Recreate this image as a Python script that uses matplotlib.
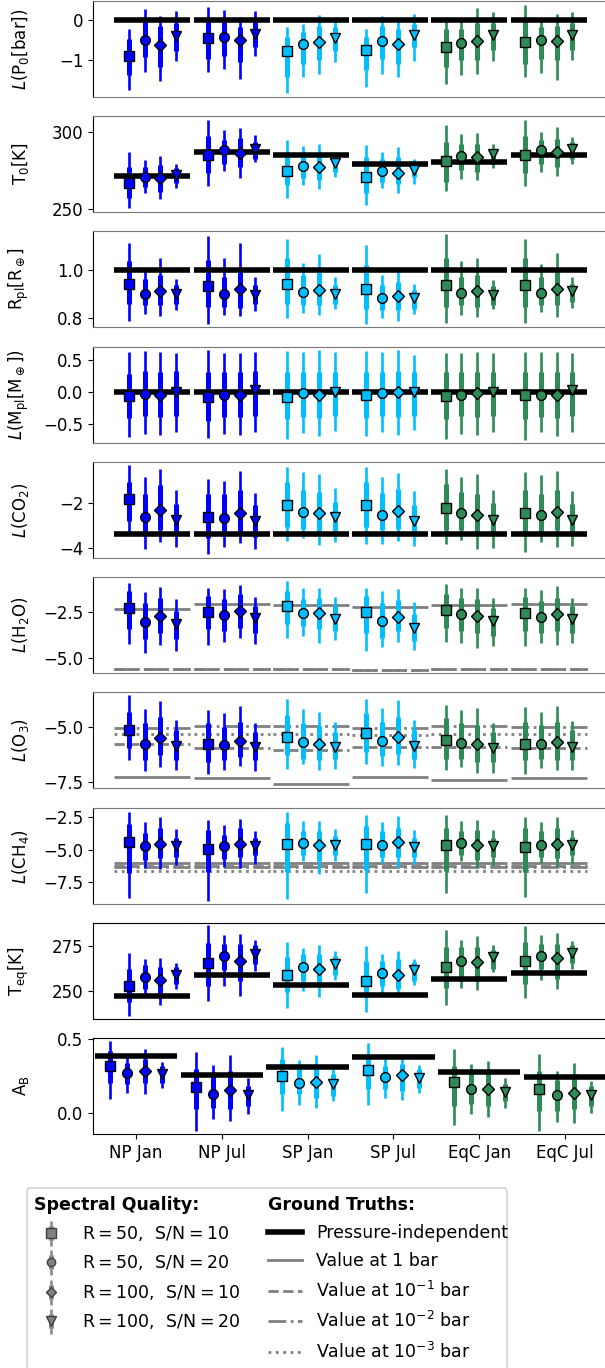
import numpy as np
import matplotlib
matplotlib.use("Agg")
import matplotlib.pyplot as plt
from matplotlib.lines import Line2D
from matplotlib.patches import FancyBboxPatch

locations = ["NP Jan", "NP Jul", "SP Jan", "SP Jul", "EqC Jan", "EqC Jul"]
loc_colors = ["#0000ff", "#0000ff", "#00bfff", "#00bfff", "#2e8b57", "#2e8b57"]
quality_labels = [r"$\mathrm{R=50,\ \,S/N=10}$", r"$\mathrm{R=50,\ \,S/N=20}$",
                  r"$\mathrm{R=100,\ \,S/N=10}$", r"$\mathrm{R=100,\ \,S/N=20}$"]
quality_markers = ["s", "o", "D", "v"]

# posteriors: [location][spectral quality] -> (2.5%, 16%, 50%, 84%, 97.5%)
P0 = [
    [[-1.72, -1.37, -0.88, -0.47, -0.23], [-1.28, -0.92, -0.49, -0.02, 0.26], [-1.51, -1.16, -0.62, -0.15, 0.10], [-1.02, -0.76, -0.41, -0.07, 0.22]],
    [[-1.28, -0.96, -0.46, 0.02, 0.32], [-1.20, -0.88, -0.43, -0.02, 0.24], [-1.45, -1.04, -0.51, -0.19, 0.07], [-0.90, -0.67, -0.35, -0.02, 0.22]],
    [[-1.81, -1.41, -0.78, -0.43, -0.19], [-1.42, -1.08, -0.59, -0.31, -0.11], [-1.33, -1.00, -0.56, -0.15, 0.12], [-1.04, -0.76, -0.45, -0.19, -0.02]],
    [[-1.65, -1.24, -0.74, -0.43, -0.23], [-1.33, -0.96, -0.53, -0.15, 0.10], [-1.41, -1.08, -0.59, -0.23, 0.02], [-1.02, -0.67, -0.37, -0.11, 0.14]],
    [[-1.57, -1.16, -0.67, -0.23, 0.07], [-1.37, -1.00, -0.57, -0.23, 0.02], [-1.34, -1.00, -0.53, -0.07, 0.30], [-1.02, -0.74, -0.37, -0.07, 0.18]],
    [[-1.42, -1.08, -0.54, -0.02, 0.37], [-1.31, -0.96, -0.49, -0.19, 0.02], [-1.47, -1.00, -0.53, -0.15, 0.15], [-1.00, -0.74, -0.37, -0.07, 0.18]],
]
T0 = [
    [[250.6, 257.1, 267.2, 277.5, 287.1], [260.7, 264.6, 271.0, 277.5, 282.2], [256.4, 261.4, 270.0, 278.5, 284.5], [263.9, 267.2, 272.5, 276.4, 279.6]],
    [[265.2, 273.2, 285.0, 297.2, 307.9], [274.9, 279.6, 288.2, 294.6, 301.1], [270.0, 277.5, 286.5, 296.1, 302.8], [280.3, 282.8, 289.3, 293.6, 297.9]],
    [[257.1, 265.7, 274.7, 286.1, 294.6], [265.7, 270.0, 278.1, 286.1, 291.0], [263.1, 269.0, 277.5, 286.1, 292.5], [271.0, 274.2, 280.0, 285.0, 287.1]],
    [[252.8, 260.3, 271.0, 283.9, 291.4], [263.5, 267.8, 274.7, 282.8, 287.1], [260.7, 266.7, 273.8, 283.9, 290.3], [266.7, 271.0, 275.3, 280.7, 282.8]],
    [[262.0, 267.8, 281.1, 293.6, 304.3], [269.3, 275.3, 284.3, 292.5, 298.9], [268.9, 274.2, 283.5, 292.5, 299.4], [276.4, 279.6, 285.6, 289.3, 292.5]],
    [[265.2, 273.2, 285.4, 297.2, 307.9], [274.2, 279.6, 288.2, 294.6, 300.0], [271.7, 277.5, 287.1, 295.7, 303.2], [279.6, 282.8, 288.8, 293.6, 296.8]],
]
RP = [
    [[0.788, 0.859, 0.941, 1.034, 1.108], [0.818, 0.852, 0.901, 0.963, 0.994], [0.808, 0.852, 0.912, 0.979, 1.046], [0.834, 0.859, 0.898, 0.935, 0.959]],
    [[0.775, 0.846, 0.931, 1.039, 1.139], [0.811, 0.846, 0.901, 0.970, 1.046], [0.807, 0.841, 0.919, 0.990, 1.108], [0.829, 0.857, 0.897, 0.935, 0.970]],
    [[0.800, 0.859, 0.942, 1.046, 1.128], [0.822, 0.852, 0.909, 0.977, 1.029], [0.811, 0.852, 0.917, 0.990, 1.063], [0.839, 0.859, 0.898, 0.935, 0.970]],
    [[0.775, 0.839, 0.921, 1.018, 1.103], [0.801, 0.834, 0.884, 0.935, 0.979], [0.786, 0.832, 0.891, 0.949, 1.011], [0.818, 0.839, 0.883, 0.914, 0.942]],
    [[0.781, 0.846, 0.938, 1.046, 1.145], [0.814, 0.852, 0.905, 0.970, 1.034], [0.804, 0.846, 0.912, 0.979, 1.046], [0.839, 0.855, 0.897, 0.932, 0.956]],
    [[0.781, 0.846, 0.935, 1.046, 1.124], [0.825, 0.855, 0.905, 0.970, 1.021], [0.804, 0.852, 0.921, 0.990, 1.070], [0.843, 0.866, 0.910, 0.942, 0.970]],
]
MP = [
    [[-0.71, -0.41, -0.06, 0.29, 0.63], [-0.66, -0.38, -0.03, 0.34, 0.64], [-0.67, -0.39, -0.04, 0.32, 0.63], [-0.63, -0.37, 0.01, 0.34, 0.61]],
    [[-0.72, -0.45, -0.08, 0.32, 0.66], [-0.66, -0.39, -0.04, 0.32, 0.61], [-0.67, -0.39, -0.04, 0.32, 0.61], [-0.62, -0.38, 0.04, 0.34, 0.63]],
    [[-0.74, -0.42, -0.07, 0.32, 0.64], [-0.64, -0.39, -0.02, 0.32, 0.63], [-0.69, -0.41, -0.04, 0.32, 0.66], [-0.61, -0.37, 0.01, 0.32, 0.63]],
    [[-0.69, -0.41, -0.05, 0.32, 0.64], [-0.63, -0.37, -0.01, 0.32, 0.63], [-0.67, -0.39, 0.01, 0.33, 0.66], [-0.59, -0.37, 0.00, 0.32, 0.59]],
    [[-0.74, -0.42, -0.06, 0.32, 0.61], [-0.66, -0.38, -0.04, 0.32, 0.61], [-0.68, -0.39, -0.01, 0.32, 0.63], [-0.63, -0.37, 0.00, 0.32, 0.61]],
    [[-0.75, -0.42, -0.05, 0.32, 0.63], [-0.63, -0.39, -0.04, 0.32, 0.63], [-0.69, -0.41, -0.05, 0.32, 0.63], [-0.63, -0.37, 0.04, 0.32, 0.61]],
]
CO2 = [
    [[-3.30, -2.78, -1.81, -1.06, -0.31], [-4.04, -3.45, -2.60, -1.58, -0.84], [-3.75, -3.22, -2.30, -1.21, -0.49], [-3.97, -3.37, -2.75, -2.03, -1.43]],
    [[-4.27, -3.55, -2.60, -1.58, -0.91], [-3.97, -3.45, -2.67, -1.58, -0.99], [-3.79, -3.30, -2.45, -1.43, -0.54], [-4.04, -3.49, -2.78, -2.10, -1.55]],
    [[-3.70, -3.07, -2.06, -1.06, -0.39], [-3.55, -3.15, -2.40, -1.43, -0.61], [-3.85, -3.37, -2.43, -1.51, -0.69], [-3.75, -3.30, -2.63, -1.96, -1.31]],
    [[-3.82, -3.07, -2.06, -1.06, -0.39], [-3.82, -3.22, -2.51, -1.55, -0.81], [-3.67, -3.15, -2.33, -1.36, -0.66], [-3.90, -3.45, -2.78, -2.10, -1.46]],
    [[-3.82, -3.22, -2.22, -1.13, -0.46], [-3.64, -3.22, -2.45, -1.51, -0.84], [-4.04, -3.37, -2.52, -1.58, -0.69], [-4.01, -3.37, -2.75, -2.00, -1.40]],
    [[-4.19, -3.45, -2.45, -1.43, -0.61], [-3.75, -3.34, -2.55, -1.58, -0.76], [-3.97, -3.22, -2.40, -1.43, -0.54], [-3.90, -3.37, -2.75, -2.03, -1.46]],
]
H2O = [
    [[-4.24, -3.46, -2.32, -1.38, -0.92], [-4.73, -4.00, -3.04, -2.01, -1.41], [-4.28, -3.64, -2.74, -1.74, -1.16], [-4.64, -4.00, -3.19, -2.46, -1.83]],
    [[-4.33, -3.46, -2.50, -1.65, -1.20], [-4.13, -3.55, -2.68, -1.83, -1.29], [-3.91, -3.37, -2.46, -1.56, -1.05], [-4.24, -3.64, -2.83, -2.19, -1.70]],
    [[-3.91, -3.15, -2.19, -1.38, -0.83], [-3.79, -3.28, -2.55, -1.83, -1.20], [-4.18, -3.46, -2.59, -1.74, -1.20], [-4.04, -3.55, -2.88, -2.19, -1.68]],
    [[-4.64, -3.64, -2.52, -1.65, -1.20], [-4.42, -3.91, -3.01, -2.01, -1.38], [-4.13, -3.55, -2.77, -1.88, -1.29], [-4.58, -4.09, -3.37, -2.64, -1.96]],
    [[-4.15, -3.37, -2.41, -1.56, -1.01], [-4.18, -3.55, -2.64, -1.74, -1.20], [-4.49, -3.64, -2.74, -1.83, -1.20], [-4.37, -3.82, -3.01, -2.28, -1.74]],
    [[-4.37, -3.55, -2.55, -1.68, -1.20], [-4.18, -3.64, -2.77, -1.92, -1.34], [-4.28, -3.55, -2.64, -1.74, -1.10], [-4.18, -3.64, -2.92, -2.19, -1.74]],
]
O3 = [
    [[-6.52, -5.98, -5.15, -4.32, -3.56], [-7.00, -6.52, -5.76, -4.85, -4.21], [-6.82, -6.29, -5.53, -4.58, -3.86], [-6.94, -6.52, -5.88, -5.15, -4.70]],
    [[-7.15, -6.59, -5.76, -4.85, -4.24], [-6.94, -6.52, -5.83, -5.00, -4.39], [-6.79, -6.36, -5.65, -4.77, -4.06], [-7.00, -6.52, -5.91, -5.23, -4.82]],
    [[-6.89, -6.29, -5.48, -4.47, -3.76], [-6.70, -6.44, -5.70, -4.85, -4.21], [-6.97, -6.52, -5.76, -4.97, -4.32], [-6.89, -6.44, -5.91, -5.23, -4.77]],
    [[-6.67, -6.14, -5.27, -4.39, -3.76], [-6.77, -6.33, -5.65, -4.77, -4.17], [-6.74, -6.21, -5.48, -4.55, -3.79], [-6.86, -6.44, -5.88, -5.15, -4.70]],
    [[-6.94, -6.44, -5.62, -4.62, -4.02], [-6.82, -6.44, -5.73, -4.85, -4.24], [-7.09, -6.59, -5.79, -4.92, -4.17], [-7.09, -6.59, -5.98, -5.23, -4.82]],
    [[-7.12, -6.52, -5.76, -4.77, -4.12], [-6.85, -6.44, -5.76, -4.92, -4.32], [-6.97, -6.52, -5.68, -4.77, -4.06], [-6.94, -6.52, -5.91, -5.15, -4.73]],
]
CH4 = [
    [[-8.69, -6.80, -4.43, -3.02, -2.09], [-6.37, -5.77, -4.74, -3.71, -2.89], [-6.47, -5.64, -4.56, -3.32, -2.50], [-6.16, -5.52, -4.74, -4.10, -3.38]],
    [[-8.94, -6.68, -4.95, -3.45, -2.68], [-6.29, -5.70, -4.74, -3.84, -3.07], [-6.42, -5.59, -4.56, -3.32, -2.60], [-6.11, -5.44, -4.69, -4.10, -3.58]],
    [[-8.79, -6.68, -4.54, -2.94, -2.09], [-5.90, -5.39, -4.48, -3.58, -2.81], [-6.88, -5.90, -4.67, -3.58, -2.81], [-5.90, -5.39, -4.61, -3.97, -3.38]],
    [[-8.35, -6.55, -4.56, -3.20, -2.35], [-6.03, -5.59, -4.61, -3.58, -2.86], [-6.29, -5.52, -4.43, -3.32, -2.42], [-6.11, -5.52, -4.79, -4.10, -3.51]],
    [[-8.30, -6.62, -4.67, -3.32, -2.29], [-5.90, -5.39, -4.48, -3.58, -2.81], [-6.42, -5.77, -4.67, -3.45, -2.68], [-6.16, -5.52, -4.74, -4.10, -3.45]],
    [[-8.61, -6.68, -4.82, -3.32, -2.50], [-6.03, -5.52, -4.61, -3.58, -2.86], [-6.29, -5.64, -4.56, -3.32, -2.50], [-6.11, -5.44, -4.67, -4.05, -3.45]],
]
TEQ = [
    [[235.9, 243.4, 252.8, 262.2, 271.2], [247.2, 250.9, 257.5, 264.1, 267.9], [242.1, 247.2, 256.0, 263.2, 268.4], [250.9, 253.8, 258.5, 263.2, 265.6]],
    [[244.0, 252.8, 265.4, 276.7, 286.7], [252.3, 261.3, 269.2, 276.3, 281.0], [246.8, 255.6, 266.9, 276.3, 282.0], [260.9, 265.0, 270.7, 275.4, 278.6]],
    [[240.2, 249.1, 259.0, 268.8, 277.3], [249.6, 255.6, 263.2, 270.7, 274.1], [246.2, 252.8, 262.2, 270.7, 275.8], [256.0, 258.5, 265.0, 269.7, 272.0]],
    [[237.8, 246.2, 255.6, 266.9, 274.8], [248.5, 252.8, 259.8, 266.9, 270.7], [246.2, 250.9, 258.8, 267.9, 272.2], [253.4, 255.6, 261.3, 266.0, 267.9]],
    [[242.1, 251.5, 263.2, 274.4, 283.8], [251.5, 257.5, 266.9, 274.4, 278.6], [250.4, 255.6, 266.0, 274.4, 280.5], [260.3, 262.2, 268.8, 272.6, 275.4]],
    [[245.7, 253.8, 266.4, 277.3, 286.3], [256.0, 262.2, 269.7, 276.3, 281.0], [250.9, 256.6, 268.4, 276.3, 282.5], [262.2, 265.4, 271.0, 275.4, 277.8]],
]
AB = [
    [[0.091, 0.205, 0.318, 0.416, 0.484], [0.136, 0.193, 0.268, 0.336, 0.386], [0.130, 0.205, 0.284, 0.364, 0.432], [0.170, 0.205, 0.266, 0.318, 0.345]],
    [[-0.120, 0.023, 0.175, 0.295, 0.409], [-0.039, 0.034, 0.125, 0.261, 0.325], [-0.057, 0.023, 0.155, 0.284, 0.391], [-0.005, 0.045, 0.120, 0.182, 0.239]],
    [[0.011, 0.125, 0.250, 0.364, 0.448], [0.052, 0.125, 0.200, 0.295, 0.359], [0.030, 0.102, 0.209, 0.318, 0.391], [0.080, 0.114, 0.193, 0.261, 0.295]],
    [[0.052, 0.159, 0.289, 0.398, 0.470], [0.102, 0.159, 0.245, 0.318, 0.370], [0.084, 0.148, 0.255, 0.330, 0.393], [0.136, 0.170, 0.239, 0.295, 0.325]],
    [[-0.080, 0.045, 0.209, 0.318, 0.432], [-0.005, 0.057, 0.159, 0.273, 0.334], [-0.030, 0.045, 0.164, 0.284, 0.348], [0.034, 0.080, 0.143, 0.193, 0.239]],
    [[-0.125, 0.011, 0.159, 0.284, 0.398], [-0.061, 0.016, 0.120, 0.220, 0.284], [-0.068, 0.023, 0.136, 0.261, 0.336], [0.000, 0.045, 0.120, 0.182, 0.216]],
]

# ground truths per location
P0_true = [0.0, 0.0, 0.0, 0.0, 0.0, 0.0]
T0_true = [271.5, 287.1, 285.0, 279.0, 280.7, 285.0]
RP_true = [1.0, 1.0, 1.0, 1.0, 1.0, 1.0]
MP_true = [0.0, 0.0, 0.0, 0.0, 0.0, 0.0]
CO2_true = [-3.37, -3.37, -3.37, -3.37, -3.37, -3.37]
H2O_1bar = [-2.37, -2.07, -2.14, -2.23, -2.16, -2.10]
H2O_1e1 = [-5.63, -5.58, -5.63, -5.67, -5.63, -5.58]
H2O_1e2 = [-5.63, -5.58, -5.63, -5.67, -5.63, -5.58]
H2O_1e3 = [-5.63, -5.58, -5.63, -5.67, -5.63, -5.58]
O3_1bar = [-7.27, -7.30, -7.58, -7.27, -7.38, -7.30]
O3_1e1 = [-5.76, -5.95, -6.03, -5.91, -5.91, -5.98]
O3_1e2 = [-5.05, -4.95, -4.97, -5.08, -4.97, -5.00]
O3_1e3 = [-5.33, -5.33, -5.35, -5.38, -5.33, -5.33]
CH4_1bar = [-6.03, -6.03, -6.03, -6.03, -6.03, -6.03]
CH4_1e1 = [-6.28, -6.28, -6.28, -6.28, -6.28, -6.28]
CH4_1e2 = [-6.36, -6.36, -6.36, -6.36, -6.36, -6.36]
CH4_1e3 = [-6.62, -6.62, -6.62, -6.62, -6.62, -6.62]
TEQ_true = [246.8, 258.5, 253.4, 247.7, 256.6, 259.8]
AB_true = [0.382, 0.257, 0.314, 0.375, 0.277, 0.243]

panels = [
    (r"$L(\mathrm{P_0[bar]})$", P0, {"indep": P0_true}, (-1.9, 0.46), [-1, 0]),
    (r"$\mathrm{T_0[K]}$", T0, {"indep": T0_true}, (248.3, 310.3), [250, 300]),
    (r"$\mathrm{R_{pl}[R_\oplus]}$", RP, {"indep": RP_true}, (0.763, 1.159), [0.8, 1.0]),
    (r"$L(\mathrm{M_{pl}[M_\oplus]})$", MP, {"indep": MP_true}, (-0.8, 0.71), [-0.5, 0.0, 0.5]),
    (r"$L(\mathrm{CO_2})$", CO2, {"indep": CO2_true}, (-4.45, -0.16), [-4, -2]),
    (r"$L(\mathrm{H_2O})$", H2O, {"1": H2O_1bar, "1e-1": H2O_1e1, "1e-2": H2O_1e2, "1e-3": H2O_1e3}, (-5.82, -0.62), [-5.0, -2.5]),
    (r"$L(\mathrm{O_3})$", O3, {"1": O3_1bar, "1e-1": O3_1e1, "1e-2": O3_1e2, "1e-3": O3_1e3}, (-7.76, -3.44), [-7.5, -5.0]),
    (r"$L(\mathrm{CH_4})$", CH4, {"1": CH4_1bar, "1e-1": CH4_1e1, "1e-2": CH4_1e2, "1e-3": CH4_1e3}, (-9.18, -1.78), [-7.5, -5.0, -2.5]),
    (r"$\mathrm{T_{eq}[K]}$", TEQ, {"indep": TEQ_true}, (234, 288), [250, 275]),
    (r"$\mathrm{A_B}$", AB, {"indep": AB_true}, (-0.143, 0.507), [0.0, 0.5]),
]

gray_styles = {"1": "-", "1e-1": "--", "1e-2": "-.", "1e-3": ":"}
offsets = [-0.3, -0.1, 0.1, 0.3]
msizes = [7.5, 7.0, 6.3, 7.5]

plt.rcParams["font.size"] = 12
W, H = 605, 1368
fig = plt.figure(figsize=(W / 100, H / 100), dpi=100)

panel_tops = [1, 116, 231, 347, 462, 577, 692, 808, 923, 1038]
panel_h = 96
axes = []
for k, (ylabel, data, truths, ylim, yticks) in enumerate(panels):
    top = panel_tops[k]
    ax = fig.add_axes([93 / W, 1 - (top + panel_h) / H, 515 / W, panel_h / H])
    axes.append(ax)
    for i in range(len(locations)):
        c = loc_colors[i]
        for key, vals in truths.items():
            if key == "indep":
                ax.hlines(vals[i], i - 0.48, i + 0.48, color="k", lw=4, zorder=3)
            else:
                ax.hlines(vals[i], i - 0.48, i + 0.48, color="gray", lw=2,
                          ls=gray_styles[key], zorder=1)
        for j in range(4):
            lo2, lo1, med, hi1, hi2 = data[i][j]
            x = i + offsets[j]
            ax.vlines(x, lo2, hi2, color=c, lw=1.9, zorder=2)
            ax.vlines(x, lo1, hi1, color=c, lw=3.6, zorder=2)
            ax.plot(x, med, marker=quality_markers[j], ms=msizes[j], mfc=c,
                    mec="k", mew=1, ls="none", zorder=4)
    ax.set_ylim(*ylim)
    ax.set_yticks(yticks)
    ax.set_ylabel(ylabel)
    ax.yaxis.set_label_coords(-0.12, 0.5)
    if k < 9:
        ax.set_xlim(-0.75, 5.75)
        ax.tick_params(axis="x", bottom=False, labelbottom=False)
    else:
        ax.set_xlim(-0.5, 5.5)
        ax.set_xticks(range(len(locations)))
        ax.set_xticklabels(locations)
    if k < 8:
        ax.spines["top"].set_color("#777777")
        ax.spines["bottom"].set_color("#777777")

# legend box
box = FancyBboxPatch((27 / W, -0.01), 480 / W, (H - 1188) / H + 0.01,
                     boxstyle="round,pad=0,rounding_size=0.004",
                     transform=fig.transFigure, fc="white", ec="0.8", lw=1)
fig.patches.append(box)

q_handles = []
for m, s in zip(quality_markers, msizes):
    q_handles.append((
        Line2D([], [], ls="none", marker="|", ms=18, mew=1.9, color="0.55"),
        Line2D([], [], ls="none", marker="|", ms=10, mew=3.6, color="0.55"),
        Line2D([], [], ls="none", marker=m, ms=s - 1, mfc="0.5", mec="0.25", mew=1),
    ))
leg1 = fig.legend(q_handles, quality_labels, loc="upper left",
                  bbox_to_anchor=(18 / W, 1 - 1180 / H), frameon=False,
                  title="Spectral Quality:", alignment="left", fontsize=12.5,
                  labelspacing=0.6,
                  title_fontproperties={"weight": "bold", "size": 12.5})

gt_handles = [Line2D([], [], color="k", lw=4),
              Line2D([], [], color="gray", lw=2, ls="-"),
              Line2D([], [], color="gray", lw=2, ls="--"),
              Line2D([], [], color="gray", lw=2, ls="-."),
              Line2D([], [], color="gray", lw=2, ls=":")]
gt_labels = ["Pressure-independent", "Value at 1 bar", r"Value at $10^{-1}$ bar",
             r"Value at $10^{-2}$ bar", r"Value at $10^{-3}$ bar"]
leg2 = fig.legend(gt_handles, gt_labels, loc="upper left",
                  bbox_to_anchor=(252 / W, 1 - 1180 / H), frameon=False,
                  title="Ground Truths:", alignment="left", fontsize=12.5,
                  handlelength=2.0, labelspacing=0.6,
                  title_fontproperties={"weight": "bold", "size": 12.5})

fig.savefig("out.png", dpi=100)
